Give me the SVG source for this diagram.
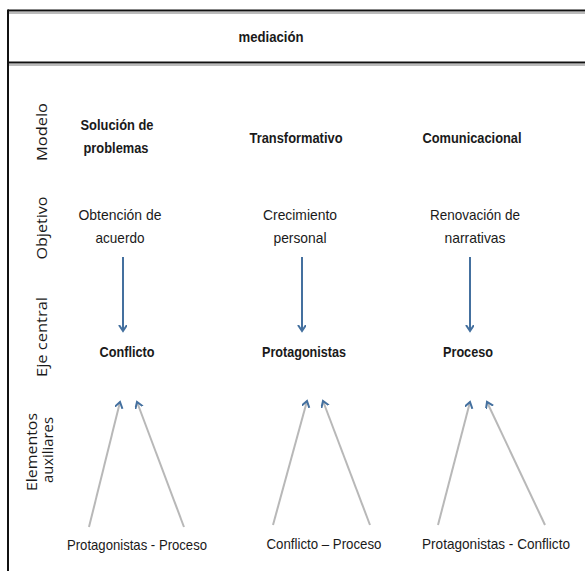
<svg xmlns="http://www.w3.org/2000/svg" width="585" height="571" viewBox="0 0 585 571">
<style>
text{font-family:"Liberation Sans","Open Sans",Arial,sans-serif;font-size:15px;fill:#1a1a1a;text-anchor:middle}
.b{font-weight:bold}
.r{font-family:"Open Sans","Liberation Sans",sans-serif;font-size:14px}
.frame{stroke:#111;stroke-width:2;fill:none}
.shadow{stroke:#bbb;stroke-width:2;fill:none}
.down{stroke:#44709f;stroke-width:2;fill:none;marker-end:url(#ah)}
.up{stroke:#b8b8b8;stroke-width:2;fill:none;marker-end:url(#ah)}
</style>
<defs>
<marker id="ah" markerWidth="10" markerHeight="10" refX="6" refY="4" orient="auto" markerUnits="userSpaceOnUse">
<path d="M0,0 L6,4 L0,8" fill="none" stroke="#44709f" stroke-width="2"/>
</marker>
</defs>
<g id="frame">
<line class="shadow" x1="8" y1="13" x2="585" y2="13"/>
<line class="shadow" x1="8" y1="65" x2="585" y2="65"/>
<line class="frame" x1="8" y1="10.5" x2="585" y2="10.5"/>
<line class="frame" x1="8" y1="62.5" x2="585" y2="62.5"/>
<line class="frame" x1="8" y1="9.5" x2="8" y2="571"/>
</g>
<g id="title"><text class="b" x="271" y="42" font-size="16" textLength="65" lengthAdjust="spacingAndGlyphs">mediación</text></g>
<g id="row-labels">
<text class="r" transform="translate(47,132) rotate(-90)" textLength="58" lengthAdjust="spacingAndGlyphs">Modelo</text>
<text class="r" transform="translate(47,228) rotate(-90)" textLength="63" lengthAdjust="spacingAndGlyphs">Objetivo</text>
<text class="r" transform="translate(47,337) rotate(-90)" textLength="80" lengthAdjust="spacingAndGlyphs">Eje central</text>
<text class="r" transform="translate(37,452) rotate(-90)" textLength="78" lengthAdjust="spacingAndGlyphs">Elementos</text>
<text class="r" transform="translate(53,450) rotate(-90)" textLength="66" lengthAdjust="spacingAndGlyphs">auxiliares</text>
</g>
<g id="col1">
<text class="b" x="117" y="130" textLength="73" lengthAdjust="spacingAndGlyphs">Solución de</text>
<text class="b" x="116" y="153" textLength="65" lengthAdjust="spacingAndGlyphs">problemas</text>
<text x="120" y="220" textLength="83" lengthAdjust="spacingAndGlyphs">Obtención de</text>
<text x="120" y="243" textLength="49" lengthAdjust="spacingAndGlyphs">acuerdo</text>
<text class="b" x="127" y="357" textLength="55" lengthAdjust="spacingAndGlyphs">Conflicto</text>
<text x="137" y="550" textLength="140" lengthAdjust="spacingAndGlyphs">Protagonistas - Proceso</text>
</g>
<g id="col2">
<text class="b" x="296" y="143" textLength="93" lengthAdjust="spacingAndGlyphs">Transformativo</text>
<text x="300" y="220" textLength="74" lengthAdjust="spacingAndGlyphs">Crecimiento</text>
<text x="300" y="243" textLength="53" lengthAdjust="spacingAndGlyphs">personal</text>
<text class="b" x="304" y="357" textLength="84" lengthAdjust="spacingAndGlyphs">Protagonistas</text>
<text x="324" y="549" textLength="115" lengthAdjust="spacingAndGlyphs">Conflicto – Proceso</text>
</g>
<g id="col3">
<text class="b" x="472" y="143" textLength="99" lengthAdjust="spacingAndGlyphs">Comunicacional</text>
<text x="475" y="220" textLength="90" lengthAdjust="spacingAndGlyphs">Renovación de</text>
<text x="475" y="243" textLength="61" lengthAdjust="spacingAndGlyphs">narrativas</text>
<text class="b" x="468" y="357" textLength="50" lengthAdjust="spacingAndGlyphs">Proceso</text>
<text x="496" y="549" textLength="148" lengthAdjust="spacingAndGlyphs">Protagonistas - Conflicto</text>
</g>
<g id="connectors">
<line class="down" x1="123" y1="257" x2="123" y2="331"/>
<line class="down" x1="302" y1="257" x2="302" y2="331"/>
<line class="down" x1="470" y1="257" x2="470" y2="331"/>
<line class="up" x1="89" y1="527" x2="120" y2="402"/>
<line class="up" x1="184" y1="527" x2="137" y2="402"/>
<line class="up" x1="273" y1="525" x2="307" y2="401"/>
<line class="up" x1="370" y1="525" x2="323" y2="401"/>
<line class="up" x1="438" y1="525" x2="470" y2="402"/>
<line class="up" x1="545" y1="525" x2="487" y2="402"/>
</g>
</svg>
